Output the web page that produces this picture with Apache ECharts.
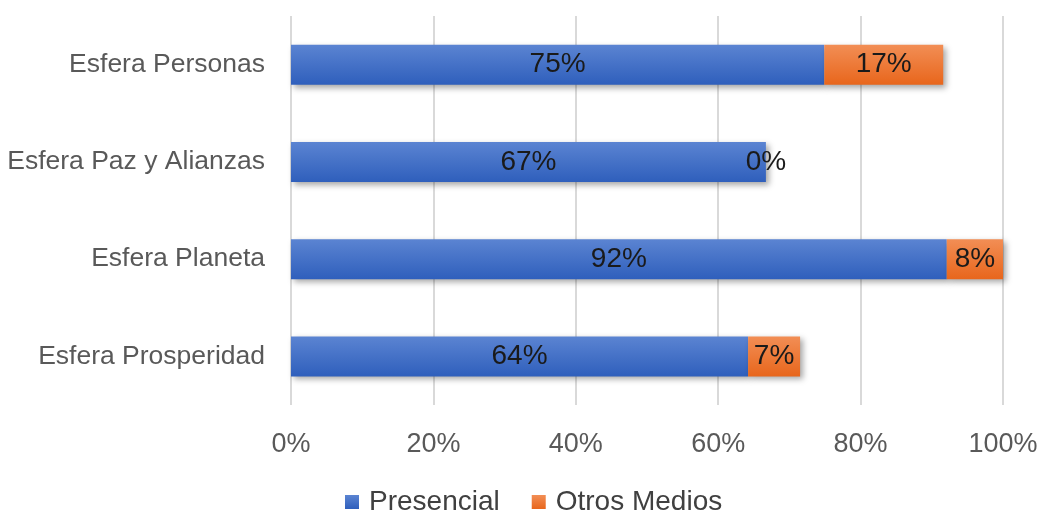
<!DOCTYPE html>
<html><head><meta charset="utf-8">
<script src="https://cdn.jsdelivr.net/npm/echarts@6/dist/echarts.min.js"></script>
<style>html,body{margin:0;padding:0;background:#fff}#c{width:1038px;height:513px}</style>
</head><body><div id="c"></div>
<script>
const categories = ['Esfera Prosperidad', 'Esfera Planeta', 'Esfera Paz y Alianzas', 'Esfera Personas'];
const presencial = [64.2, 92.1, 66.7, 74.9];
const otrosMedios = [7.3, 7.9, 0, 16.7];
const xTicks = [0, 20, 40, 60, 80, 100];
const seriesNames = ['Presencial', 'Otros Medios'];

const FONT = '"Liberation Sans", Arial, sans-serif';
const chart = echarts.init(document.getElementById('c'));
const grad = (a, b) => new echarts.graphic.LinearGradient(0, 0, 0, 1, [{offset: 0, color: a}, {offset: 1, color: b}]);
const shadow = {shadowBlur: 6, shadowOffsetX: 3, shadowOffsetY: 3, shadowColor: 'rgba(0,0,0,0.35)'};
const lbl = {show: true, position: 'inside', color: '#1a1a1a', fontSize: 28, fontFamily: FONT,
  formatter: p => Math.round(p.value) + '%'};

chart.setOption({
  animation: false,
  textStyle: {fontFamily: FONT},
  grid: {left: 291, right: 35, top: 16, bottom: 108, containLabel: false, outerBoundsMode: 'none'},
  legend: {
    data: seriesNames, bottom: -8, left: 340, itemWidth: 14, itemHeight: 14, itemGap: 32,
    icon: 'rect', textStyle: {fontSize: 28, color: '#404040', fontFamily: FONT, padding: [0, 0, 0, 5]}
  },
  xAxis: {
    type: 'value', min: xTicks[0], max: xTicks[xTicks.length - 1], interval: 20,
    axisLabel: {formatter: '{value}%', fontSize: 27, color: '#595959', margin: 26},
    splitLine: {lineStyle: {color: '#d9d9d9', width: 2}},
    axisLine: {show: false}, axisTick: {show: false}
  },
  yAxis: {
    type: 'category', data: categories,
    axisLabel: {fontSize: 26.5, color: '#595959', margin: 26},
    axisLine: {show: false}, axisTick: {show: false}
  },
  series: [
    {name: seriesNames[0], type: 'bar', stack: 's', data: presencial, barWidth: 40,
      itemStyle: Object.assign({color: grad('#5b84d2', '#2f5fbc')}, shadow), label: lbl},
    {name: seriesNames[1], type: 'bar', stack: 's', data: otrosMedios, barWidth: 40,
      itemStyle: Object.assign({color: grad('#f28e55', '#e8661c')}, shadow), label: lbl}
  ]
});
</script></body></html>
